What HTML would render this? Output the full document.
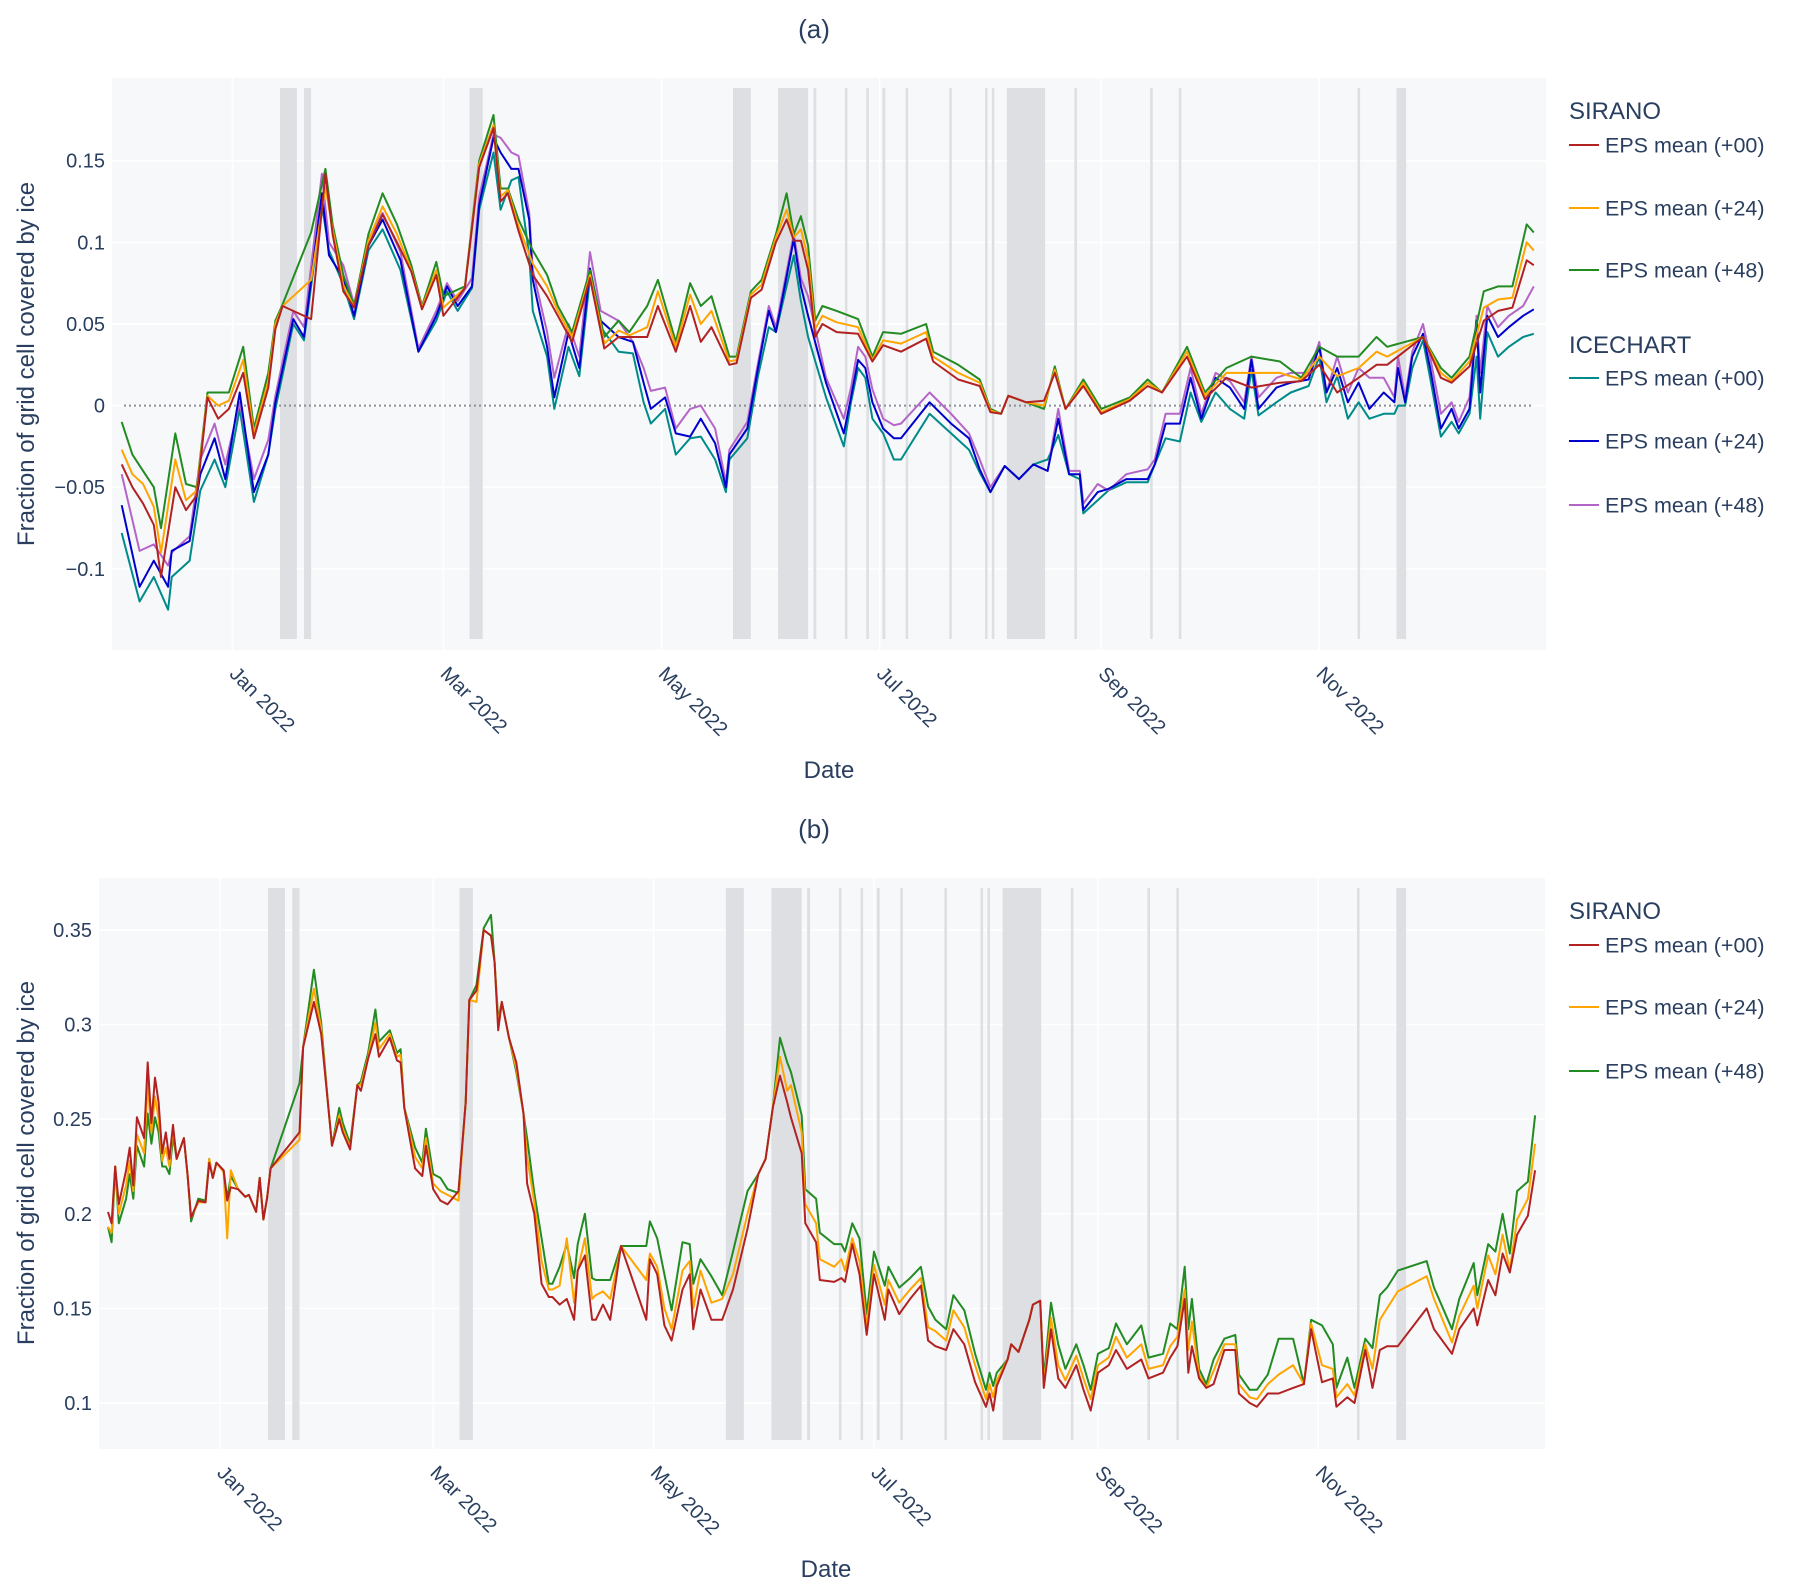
<!DOCTYPE html>
<html><head><meta charset="utf-8">
<style>
html,body{margin:0;padding:0;background:#fff;}
svg{display:block;font-family:"Liberation Sans",sans-serif;}
</style></head>
<body>
<svg id="chart" width="1800" height="1591" viewBox="0 0 1800 1591" xmlns="http://www.w3.org/2000/svg"></svg>
<script>
// ---- shared data ----
const monthTickDays = [0, 59, 120, 181, 243, 304];
const monthTickLabels = ["Jan 2022","Mar 2022","May 2022","Jul 2022","Sep 2022","Nov 2022"];
const gapStart = [13.3,20,66.3,140,152.6,162.5,171.3,177.3,181.8,188.3,200.5,210.5,212.4,216.6,235.5,256.7,264.7,314.7,325.6];
const gapEnd   = [18,22,70,145,161,163.3,172,178,182.6,189,201.2,211.2,213.1,227.3,236.2,257.4,265.4,315.4,328.3];

// ---- panel (a) ----
const aTicks = [0.15,0.1,0.05,0,-0.05,-0.1];
const aTickLabels = ["0.15","0.1","0.05","0","\u22120.05","\u22120.1"];
const aSirDays = [-31,-28,-25,-22,-20,-16,-13,-10,-7,-4,-1,3,6,10,12,14,22,26,28,31,34,38,42,46,50,53,57,59,65,69,73,75,77,80,84,88,91,95,100,104,108,111,116,119,124,128,131,134,139,141,145,148,152,155,157,159,161,163,165,169,175,179,182,187,194,196,203,209,212,215,217,222,227,230,233,238,243,251,256,260,267,272,278,285,293,299,304,309,315,320,323,333,338,341,346,350,354,358,362,364];
const aSirG = [-0.010,-0.030,-0.040,-0.050,-0.075,-0.017,-0.048,-0.050,0.008,0.008,0.008,0.036,-0.014,0.020,0.052,0.062,0.106,0.145,0.111,0.080,0.061,0.105,0.130,0.111,0.086,0.061,0.088,0.067,0.073,0.150,0.178,0.133,0.133,0.114,0.095,0.080,0.061,0.045,0.083,0.042,0.052,0.045,0.061,0.077,0.039,0.075,0.061,0.067,0.030,0.030,0.070,0.077,0.105,0.130,0.105,0.116,0.098,0.052,0.061,0.058,0.053,0.030,0.045,0.044,0.050,0.033,0.025,0.016,-0.002,-0.005,0.006,0.002,-0.002,0.024,-0.002,0.016,-0.002,0.005,0.016,0.008,0.036,0.008,0.023,0.030,0.027,0.017,0.036,0.030,0.030,0.042,0.036,0.042,0.023,0.017,0.030,0.070,0.073,0.073,0.111,0.106];
const aSirO = [-0.027,-0.042,-0.048,-0.062,-0.090,-0.033,-0.058,-0.052,0.006,0.000,0.003,0.028,-0.017,0.015,0.050,0.061,0.077,0.134,0.108,0.074,0.060,0.101,0.122,0.105,0.083,0.060,0.083,0.060,0.072,0.148,0.172,0.128,0.132,0.110,0.087,0.073,0.058,0.042,0.080,0.038,0.046,0.043,0.048,0.070,0.036,0.068,0.050,0.058,0.027,0.028,0.068,0.074,0.103,0.120,0.103,0.108,0.090,0.047,0.055,0.051,0.048,0.028,0.040,0.038,0.045,0.030,0.020,0.014,-0.003,-0.005,0.006,0.002,0.000,0.022,-0.002,0.014,-0.004,0.004,0.014,0.008,0.033,0.006,0.020,0.020,0.020,0.016,0.030,0.018,0.023,0.033,0.030,0.042,0.020,0.015,0.027,0.060,0.065,0.066,0.100,0.095];
const aSirR = [-0.036,-0.050,-0.060,-0.073,-0.105,-0.050,-0.064,-0.055,0.005,-0.008,-0.002,0.020,-0.020,0.011,0.047,0.061,0.053,0.142,0.105,0.070,0.060,0.098,0.117,0.100,0.082,0.059,0.080,0.055,0.072,0.146,0.170,0.125,0.130,0.107,0.080,0.067,0.055,0.039,0.078,0.035,0.042,0.042,0.042,0.061,0.033,0.061,0.039,0.048,0.025,0.026,0.066,0.071,0.100,0.114,0.101,0.101,0.083,0.042,0.050,0.045,0.044,0.027,0.037,0.033,0.041,0.027,0.016,0.012,-0.004,-0.005,0.006,0.002,0.003,0.020,-0.002,0.012,-0.005,0.003,0.012,0.008,0.030,0.004,0.017,0.011,0.014,0.015,0.025,0.008,0.017,0.025,0.025,0.042,0.017,0.014,0.024,0.052,0.058,0.060,0.089,0.086];
const aIceDays = [-31,-26,-22,-18,-17,-12,-9,-5,-2,2,6,10,12,17,20,25,27,31,34,38,42,47,52,57,60,63,67,69,73,75,78,80,83,84,88,90,94,97,100,103,108,112,115,117,121,124,128,131,135,138,139,144,147,150,152,157,159,161,166,171,173,175,177,179,182,185,187,195,201,206,209,212,216,220,224,228,231,234,237,238,242,245,250,256,258,261,265,268,271,275,279,283,285,287,292,296,301,304,306,309,312,315,318,322,325,326,328,330,333,335,338,341,343,346,348,349,351,354,357,361,364];
const aIceB = [-0.061,-0.111,-0.095,-0.111,-0.089,-0.083,-0.042,-0.020,-0.045,0.008,-0.053,-0.030,0.002,0.053,0.042,0.130,0.092,0.078,0.055,0.098,0.114,0.089,0.033,0.055,0.073,0.061,0.073,0.123,0.164,0.155,0.145,0.145,0.114,0.077,0.036,0.005,0.045,0.023,0.084,0.052,0.042,0.039,0.014,-0.002,0.005,-0.017,-0.019,-0.008,-0.023,-0.050,-0.030,-0.014,0.023,0.058,0.045,0.102,0.073,0.055,0.014,-0.017,0.005,0.028,0.023,0.002,-0.014,-0.020,-0.020,0.002,-0.011,-0.020,-0.039,-0.053,-0.037,-0.045,-0.036,-0.040,-0.008,-0.042,-0.042,-0.064,-0.053,-0.051,-0.045,-0.045,-0.036,-0.011,-0.011,0.017,-0.008,0.017,0.011,-0.002,0.028,-0.002,0.011,0.014,0.016,0.036,0.008,0.023,0.002,0.014,-0.002,0.008,0.002,0.023,0.002,0.030,0.044,0.023,-0.014,-0.002,-0.014,-0.002,0.052,0.008,0.055,0.042,0.048,0.055,0.059];
const aIceT = [-0.078,-0.120,-0.105,-0.125,-0.105,-0.095,-0.052,-0.033,-0.050,-0.002,-0.059,-0.030,-0.002,0.050,0.040,0.123,0.095,0.074,0.053,0.095,0.108,0.083,0.033,0.052,0.070,0.058,0.072,0.120,0.155,0.120,0.138,0.140,0.092,0.058,0.030,-0.002,0.036,0.018,0.078,0.048,0.033,0.032,0.002,-0.011,-0.002,-0.030,-0.020,-0.019,-0.033,-0.053,-0.033,-0.020,0.018,0.048,0.045,0.092,0.064,0.042,0.005,-0.025,0.002,0.023,0.017,-0.008,-0.017,-0.033,-0.033,-0.005,-0.017,-0.027,-0.041,-0.053,-0.037,-0.045,-0.036,-0.033,-0.018,-0.042,-0.045,-0.066,-0.058,-0.052,-0.047,-0.047,-0.036,-0.020,-0.022,0.008,-0.010,0.008,-0.002,-0.008,0.022,-0.006,0.002,0.008,0.012,0.030,0.002,0.018,-0.008,0.002,-0.008,-0.005,-0.005,0.000,0.000,0.023,0.040,0.017,-0.019,-0.010,-0.017,-0.005,0.030,-0.008,0.045,0.030,0.036,0.042,0.044];
const aIceP = [-0.042,-0.089,-0.085,-0.098,-0.090,-0.080,-0.033,-0.011,-0.036,0.002,-0.045,-0.021,0.006,0.058,0.048,0.142,0.100,0.086,0.062,0.102,0.118,0.094,0.035,0.058,0.075,0.064,0.078,0.128,0.166,0.164,0.155,0.153,0.118,0.083,0.045,0.017,0.050,0.030,0.094,0.058,0.052,0.039,0.023,0.009,0.011,-0.014,-0.002,0.000,-0.014,-0.047,-0.027,-0.010,0.026,0.061,0.048,0.105,0.078,0.067,0.017,-0.008,0.011,0.036,0.030,0.010,-0.008,-0.012,-0.011,0.008,-0.005,-0.017,-0.033,-0.050,-0.037,-0.045,-0.036,-0.040,-0.002,-0.040,-0.040,-0.060,-0.048,-0.052,-0.042,-0.039,-0.033,-0.005,-0.005,0.023,-0.005,0.020,0.015,0.002,0.030,0.005,0.017,0.020,0.020,0.039,0.008,0.030,0.008,0.023,0.017,0.017,0.005,0.030,0.005,0.033,0.050,0.030,-0.005,0.002,-0.010,0.005,0.055,0.020,0.061,0.048,0.055,0.061,0.073];

// ---- panel (b) ----
const bTicks = [0.35,0.3,0.25,0.2,0.15,0.1];
const bTickLabels = ["0.35","0.3","0.25","0.2","0.15","0.1"];
const bDays = [-31,-30,-29,-28,-26,-25,-24,-23,-21,-20,-19,-18,-17,-16,-15,-14,-13,-12,-10,-9,-8,-6,-4,-3,-2,-1,1,2,3,5,7,8,10,11,12,13,14,22,23,26,28,30,31,33,34,36,38,39,41,43,44,47,49,50,51,54,56,57,59,61,63,66,68,69,71,73,75,76,77,78,80,82,84,85,87,89,91,92,94,96,98,99,101,103,104,106,108,111,118,119,121,123,125,128,130,131,133,136,139,142,146,149,151,153,155,157,158,161,162,165,166,170,172,173,175,177,179,181,184,185,188,191,194,196,198,201,203,206,209,212,213,214,215,218,219,221,224,225,227,228,230,232,234,237,239,241,243,246,248,251,255,257,261,263,265,267,268,269,271,273,275,278,281,282,285,287,290,293,297,300,302,305,308,309,312,314,317,319,321,323,326,334,336,341,343,347,348,351,353,355,357,359,362,364];
const bG = [0.193,0.185,0.225,0.195,0.208,0.221,0.208,0.236,0.225,0.253,0.237,0.251,0.243,0.225,0.225,0.221,0.241,0.229,0.240,0.221,0.196,0.208,0.207,0.229,0.219,0.227,0.223,0.208,0.220,0.213,0.209,0.210,0.201,0.219,0.197,0.208,0.224,0.269,0.288,0.329,0.301,0.256,0.236,0.256,0.248,0.237,0.268,0.270,0.285,0.308,0.291,0.297,0.285,0.287,0.256,0.235,0.227,0.245,0.221,0.219,0.213,0.211,0.259,0.313,0.321,0.351,0.358,0.333,0.303,0.312,0.293,0.275,0.253,0.240,0.211,0.187,0.163,0.163,0.172,0.184,0.166,0.184,0.200,0.166,0.165,0.165,0.165,0.183,0.183,0.196,0.187,0.168,0.149,0.185,0.184,0.163,0.176,0.167,0.157,0.180,0.212,0.221,0.229,0.256,0.293,0.280,0.275,0.252,0.213,0.208,0.190,0.184,0.184,0.180,0.195,0.187,0.147,0.180,0.162,0.172,0.161,0.166,0.172,0.151,0.144,0.139,0.157,0.149,0.126,0.107,0.116,0.109,0.116,0.123,0.131,0.127,0.144,0.152,0.154,0.113,0.153,0.131,0.118,0.131,0.120,0.107,0.126,0.129,0.142,0.131,0.141,0.124,0.126,0.142,0.139,0.172,0.139,0.155,0.118,0.110,0.123,0.134,0.136,0.115,0.107,0.107,0.115,0.134,0.134,0.110,0.144,0.141,0.131,0.108,0.124,0.108,0.134,0.129,0.157,0.161,0.170,0.175,0.161,0.139,0.155,0.174,0.157,0.184,0.180,0.200,0.179,0.212,0.217,0.252];
const bO = [0.193,0.190,0.225,0.200,0.215,0.228,0.212,0.242,0.232,0.269,0.243,0.262,0.250,0.228,0.235,0.225,0.245,0.229,0.240,0.221,0.198,0.206,0.206,0.229,0.219,0.227,0.222,0.187,0.223,0.213,0.209,0.210,0.201,0.219,0.197,0.208,0.224,0.239,0.288,0.319,0.298,0.256,0.236,0.252,0.245,0.235,0.268,0.268,0.283,0.301,0.287,0.295,0.283,0.284,0.256,0.230,0.224,0.240,0.216,0.212,0.210,0.207,0.259,0.313,0.312,0.350,0.347,0.333,0.300,0.312,0.293,0.277,0.253,0.230,0.206,0.175,0.160,0.160,0.162,0.187,0.153,0.170,0.187,0.155,0.157,0.159,0.155,0.183,0.165,0.179,0.172,0.150,0.139,0.170,0.175,0.150,0.170,0.153,0.155,0.168,0.200,0.221,0.229,0.256,0.283,0.265,0.268,0.243,0.205,0.195,0.176,0.172,0.176,0.170,0.187,0.175,0.141,0.173,0.152,0.165,0.153,0.160,0.166,0.140,0.138,0.133,0.149,0.140,0.120,0.102,0.110,0.103,0.112,0.123,0.131,0.127,0.144,0.152,0.154,0.110,0.145,0.120,0.112,0.125,0.113,0.102,0.120,0.124,0.135,0.124,0.131,0.118,0.120,0.130,0.135,0.160,0.128,0.143,0.115,0.108,0.117,0.131,0.131,0.110,0.103,0.102,0.110,0.115,0.120,0.110,0.142,0.120,0.118,0.103,0.110,0.104,0.131,0.118,0.144,0.150,0.159,0.167,0.155,0.132,0.146,0.162,0.150,0.178,0.168,0.189,0.170,0.197,0.208,0.237];
const bR = [0.201,0.195,0.225,0.205,0.223,0.235,0.215,0.251,0.240,0.280,0.248,0.272,0.259,0.232,0.243,0.229,0.247,0.229,0.240,0.221,0.198,0.207,0.206,0.227,0.219,0.227,0.223,0.207,0.214,0.213,0.209,0.210,0.201,0.219,0.197,0.208,0.224,0.243,0.288,0.312,0.295,0.256,0.236,0.250,0.243,0.234,0.268,0.265,0.282,0.295,0.283,0.293,0.281,0.280,0.256,0.224,0.220,0.236,0.213,0.207,0.205,0.212,0.259,0.313,0.318,0.350,0.347,0.333,0.297,0.312,0.293,0.280,0.253,0.216,0.200,0.163,0.156,0.156,0.152,0.155,0.144,0.170,0.178,0.144,0.144,0.152,0.144,0.183,0.144,0.176,0.168,0.141,0.133,0.160,0.168,0.139,0.160,0.144,0.144,0.160,0.192,0.221,0.229,0.256,0.273,0.259,0.251,0.232,0.195,0.185,0.165,0.164,0.166,0.164,0.184,0.168,0.136,0.168,0.144,0.160,0.147,0.155,0.162,0.133,0.130,0.128,0.139,0.131,0.111,0.098,0.105,0.096,0.109,0.123,0.131,0.127,0.144,0.152,0.154,0.108,0.139,0.113,0.108,0.120,0.107,0.096,0.116,0.120,0.128,0.118,0.123,0.113,0.116,0.124,0.130,0.155,0.116,0.130,0.113,0.108,0.110,0.128,0.128,0.105,0.100,0.098,0.105,0.105,0.108,0.110,0.139,0.111,0.113,0.098,0.103,0.100,0.128,0.108,0.128,0.130,0.130,0.150,0.139,0.126,0.139,0.150,0.141,0.165,0.157,0.179,0.169,0.189,0.199,0.223];

const NS = "http://www.w3.org/2000/svg";
const svg = document.getElementById('chart');
function mk(tag, attrs, parent){
  const e = document.createElementNS(NS, tag);
  for (const k in attrs) e.setAttribute(k, attrs[k]);
  (parent || svg).appendChild(e);
  return e;
}
const TXT = "#2a3f5f";

function drawPanel(p){
  const g = mk('g', {});
  
  
  const xS = d => p.x0 + p.pxDay * d;
  const yS = v => p.yZero - (v - p.vRef) * p.pxUnit;
  const bg = mk('rect', {x:p.left, y:p.top, width:p.right-p.left, height:p.bottom-p.top, fill:'#f7f8fa'}, g);
  
  
  p.ticks.forEach((t,i) => {
    const l = mk('line', {x1:p.left, x2:p.right, y1:yS(t), y2:yS(t), stroke:'#ffffff', 'stroke-width':1.5}, g);
    
    
    const tx = mk('text', {x:p.left-7, y:yS(t)+7, 'text-anchor':'end', 'font-size':20, fill:TXT}, g);
    
    
    tx.textContent = p.tickLabels[i];
  });
  monthTickDays.forEach((d,i) => {
    const x = xS(d);
    const l = mk('line', {x1:x, x2:x, y1:p.top, y2:p.bottom, stroke:'#ffffff', 'stroke-width':1.5}, g);
    
    
    const ty = p.bottom + 11;
    const tx = mk('text', {x:x-4, y:ty+14, 'font-size':20, fill:TXT, transform:'rotate(45 '+(x-4)+' '+(ty+14)+')'}, g);
    
    
    tx.textContent = monthTickLabels[i];
  });
  gapStart.forEach((s,i) => {
    const r = mk('rect', {x:xS(s), y:p.shadeTop, width:Math.max(2.5, xS(gapEnd[i])-xS(s)), height:p.shadeBottom-p.shadeTop, fill:'#dedfe2'}, g);
    
    
  });
  if (p.zeroLine){
    const z = mk('line', {x1:p.left+12, x2:p.right-12, y1:yS(0), y2:yS(0), stroke:'#8a8f99', 'stroke-width':2, 'stroke-dasharray':'2,3'}, g);
    
    
  }
  p.series.forEach(s => {
    const pts = s.days.map((d,i) => xS(d).toFixed(1)+','+yS(s.vals[i]).toFixed(1)).join(' ');
    const pl = mk('polyline', {points:pts, fill:'none', stroke:s.color, 'stroke-width':2, 'stroke-linejoin':'round'}, g);
    
    
  });
  const t = mk('text', {x:p.titleX, y:p.titleY, 'text-anchor':'middle', 'font-size':26, fill:TXT}, g);
  
  
  t.textContent = p.title;
  const xt = mk('text', {x:p.dateX, y:p.dateY, 'text-anchor':'middle', 'font-size':24, fill:TXT}, g);
  
  
  xt.textContent = 'Date';
  const yt = mk('text', {x:0, y:0, 'text-anchor':'middle', 'font-size':24, fill:TXT, transform:'translate('+(p.yTitleX)+','+p.yTitleY+') rotate(-90)'}, g);
  
  
  yt.textContent = 'Fraction of grid cell covered by ice';
  p.legend.forEach(L => {
    if (L.group){
      const lt = mk('text', {x:1569, y:L.y+8, 'font-size':24, fill:TXT}, g);
      
      
      lt.textContent = L.group;
    } else {
      const ln = mk('line', {x1:1569, x2:1599, y1:L.y, y2:L.y, stroke:L.color, 'stroke-width':2}, g);
      
      
      const lt = mk('text', {x:1605, y:L.y+7.5, 'font-size':21.5, fill:TXT}, g);
      
      
      lt.textContent = L.label;
    }
  });
}

const RED='#b22222', ORG='#ffa500', GRN='#228b22', TEAL='#008b8b', BLUE='#0000cd', PURP='#b565c8';

drawPanel({
  name:'panel-a', left:112, right:1546, top:78, bottom:650, shadeTop:88, shadeBottom:639,
  x0:232.5, pxDay:3.575, yZero:405.6, vRef:0, pxUnit:1632.7,
  ticks:aTicks, tickLabels:aTickLabels, zeroLine:true,
  title:'(a)', titleX:814, titleY:38, dateX:829, dateY:778, yTitleX:34, yTitleY:364,
  series:[
    {id:'icechart-eps-00-line', days:aIceDays, vals:aIceT, color:TEAL},
    {id:'icechart-eps-48-line', days:aIceDays, vals:aIceP, color:PURP},
    {id:'icechart-eps-24-line', days:aIceDays, vals:aIceB, color:BLUE},
    {id:'sirano-eps-48-line', days:aSirDays, vals:aSirG, color:GRN},
    {id:'sirano-eps-24-line', days:aSirDays, vals:aSirO, color:ORG},
    {id:'sirano-eps-00-line', days:aSirDays, vals:aSirR, color:RED}
  ],
  legend:[
    {group:'SIRANO', y:111},
    {label:'EPS mean (+00)', color:RED, y:145},
    {label:'EPS mean (+24)', color:ORG, y:208},
    {label:'EPS mean (+48)', color:GRN, y:270},
    {group:'ICECHART', y:345},
    {label:'EPS mean (+00)', color:TEAL, y:378},
    {label:'EPS mean (+24)', color:BLUE, y:441},
    {label:'EPS mean (+48)', color:PURP, y:505}
  ]
});

drawPanel({
  name:'panel-b', left:99, right:1545, top:878, bottom:1449, shadeTop:888, shadeBottom:1440,
  x0:220, pxDay:3.613, yZero:930, vRef:0.35, pxUnit:1892,
  ticks:bTicks, tickLabels:bTickLabels, zeroLine:false,
  title:'(b)', titleX:814, titleY:838, dateX:826, dateY:1577, yTitleX:34, yTitleY:1163,
  series:[
    {id:'sirano-eps-48-line', days:bDays, vals:bG, color:GRN},
    {id:'sirano-eps-24-line', days:bDays, vals:bO, color:ORG},
    {id:'sirano-eps-00-line', days:bDays, vals:bR, color:RED}
  ],
  legend:[
    {group:'SIRANO', y:911},
    {label:'EPS mean (+00)', color:RED, y:945},
    {label:'EPS mean (+24)', color:ORG, y:1007},
    {label:'EPS mean (+48)', color:GRN, y:1071}
  ]
});
</script>
</body></html>
